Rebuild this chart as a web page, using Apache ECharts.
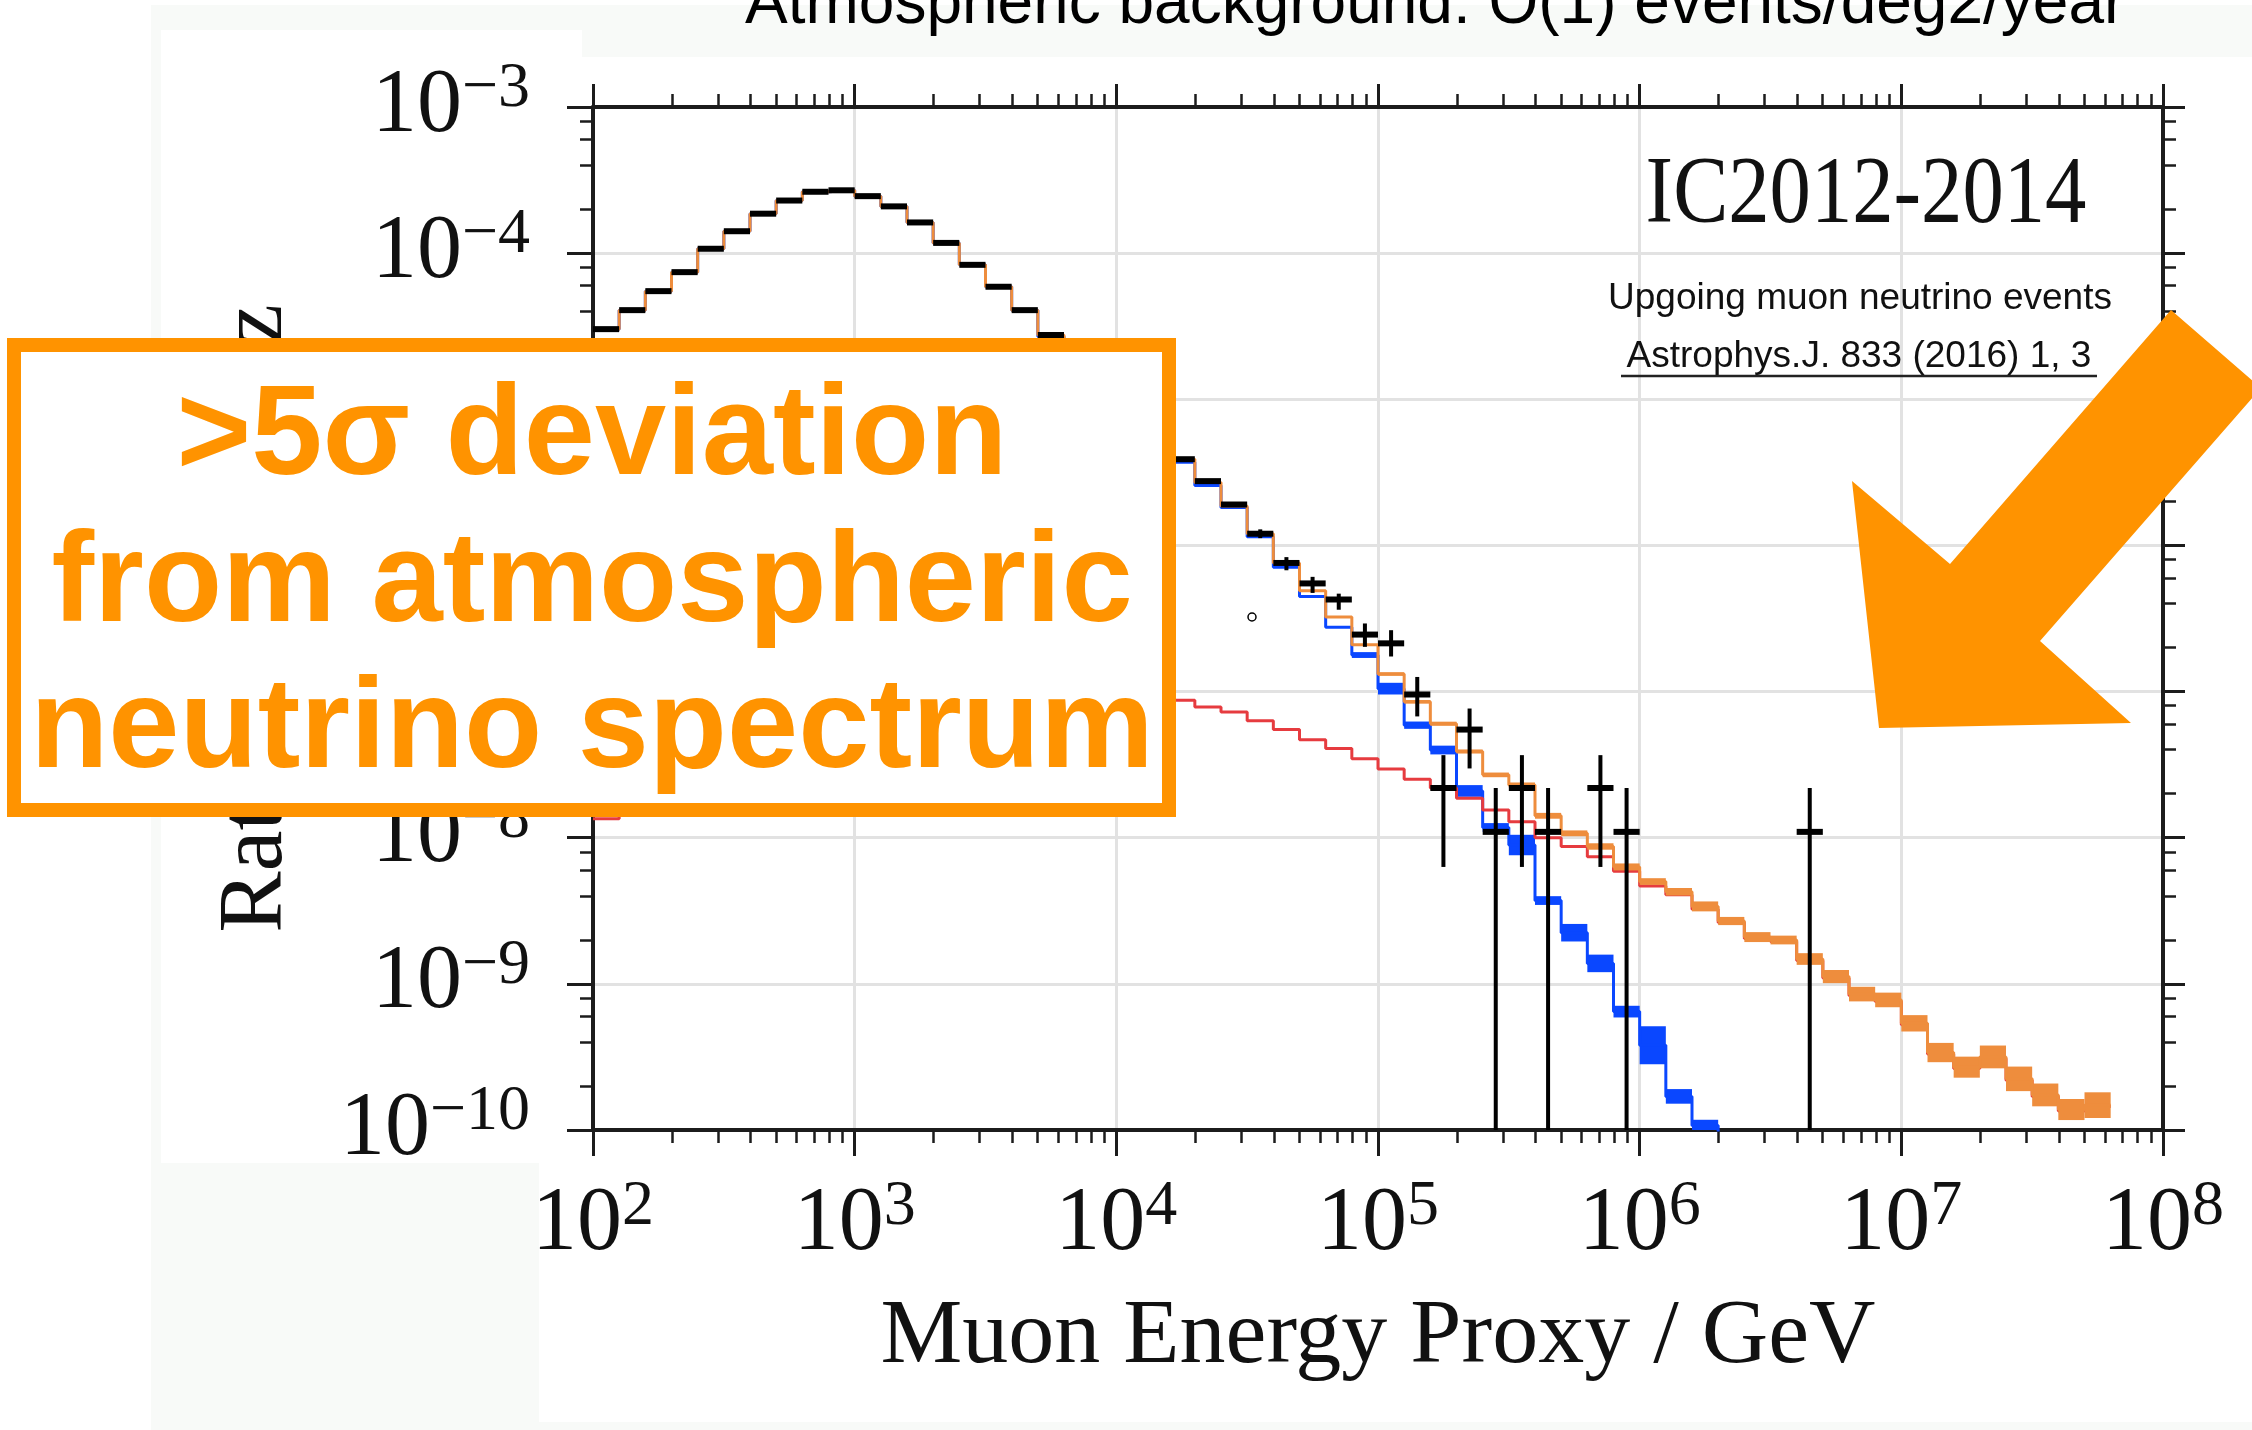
<!DOCTYPE html>
<html>
<head>
<meta charset="utf-8">
<title>IC2012-2014 upgoing muon neutrino events</title>
<script src="https://cdn.jsdelivr.net/npm/echarts@6.0.0/dist/echarts.min.js"></script>
<style>
  html, body { margin: 0; padding: 0; background: #fff; }
  .slide { position: absolute; left: 151px; top: 5px; width: 2101px; height: 1425px; background: #f8faf8; }
  .plot-a { position: absolute; left: 161px; top: 30px; width: 421px; height: 1133px; background: #fff; }
  .plot-b { position: absolute; left: 539px; top: 57px; width: 1713px; height: 1365px; background: #fff; }
  #chart { position: absolute; left: 0; top: 0; width: 2252px; height: 1430px; }
</style>
</head>
<body>
<div class="slide"></div>
<div class="plot-a"></div>
<div class="plot-b"></div>
<div id="chart"></div>
<script>
// bin edges, log10(E / GeV), bins are 0.1 wide
var binEdges = [2.0, 2.1, 2.2, 2.3, 2.4, 2.5, 2.6, 2.7, 2.8, 2.9,
  3.0, 3.1, 3.2, 3.3, 3.4, 3.5, 3.6, 3.7, 3.8, 3.9,
  4.0, 4.1, 4.2, 4.3, 4.4, 4.5, 4.6, 4.7, 4.8, 4.9,
  5.0, 5.1, 5.2, 5.3, 5.4, 5.5, 5.6, 5.7, 5.8, 5.9,
  6.0, 6.1, 6.2, 6.3, 6.4, 6.5, 6.6, 6.7, 6.8, 6.9,
  7.0, 7.1, 7.2, 7.3, 7.4, 7.5, 7.6, 7.7, 7.8];

// experimental data, log10(rate / Hz) per bin (null = empty bin)
var dataExp = [-4.52, -4.39, -4.26, -4.13, -3.97, -3.85, -3.73, -3.64, -3.58, -3.57,
  -3.61, -3.68, -3.79, -3.93, -4.08, -4.23, -4.39, -4.56, -4.73, -4.90,
  -5.07, -5.24, -5.41, -5.56, -5.72, -5.92, -6.12, -6.26, -6.37, -6.61,
  -6.67, -7.02, -7.66, -7.26, -7.96, -7.66, -7.96, null, -7.66, -7.96,
  null, null, null, null, null, null, -7.96, null, null, null,
  null, null, null, null, null, null, null, null];
var dataHiExp = [null, null, null, null, null, null, null, null, null, null,
  null, null, null, null, null, null, null, null, null, null,
  null, null, null, null, null, -5.89, -6.08, -6.215, -6.33, -6.534,
  -6.58, -6.90, -7.435, -7.116, -7.66, -7.435, -7.66, null, -7.435, -7.66,
  null, null, null, null, null, null, -7.66, null, null, null,
  null, null, null, null, null, null, null, null];
var dataLoExp = [null, null, null, null, null, null, null, null, null, null,
  null, null, null, null, null, null, null, null, null, null,
  null, null, null, null, null, -5.95, -6.17, -6.325, -6.44, -6.694,
  -6.76, -7.17, -8.2, -7.526, -10, -8.2, -10, null, -8.2, -10,
  null, null, null, null, null, null, -10, null, null, null,
  null, null, null, null, null, null, null, null];

// total expectation (orange), log10 rate and band half-width
var orangeExp = [-4.52, -4.39, -4.26, -4.13, -3.97, -3.85, -3.73, -3.64, -3.58, -3.57,
  -3.61, -3.68, -3.79, -3.93, -4.08, -4.23, -4.39, -4.56, -4.73, -4.90,
  -5.07, -5.24, -5.41, -5.57, -5.73, -5.92, -6.12, -6.31, -6.49, -6.68,
  -6.88, -7.07, -7.22, -7.41, -7.57, -7.64, -7.85, -7.97, -8.06, -8.20,
  -8.30, -8.37, -8.47, -8.57, -8.68, -8.70, -8.83, -8.95, -9.07, -9.11,
  -9.27, -9.47, -9.57, -9.50, -9.65, -9.76, -9.86, -9.83];
var orangeSpread = [0, 0, 0, 0, 0, 0, 0, 0, 0, 0,
  0, 0, 0, 0, 0, 0, 0, 0, 0, 0,
  0, 0, 0, 0, 0, 0, 0, 0, 0, 0,
  0.012, 0.012, 0.014, 0.014, 0.016, 0.018, 0.02, 0.02, 0.022, 0.024,
  0.023, 0.026, 0.034, 0.028, 0.034, 0.03, 0.04, 0.045, 0.05, 0.05,
  0.056, 0.066, 0.072, 0.078, 0.084, 0.078, 0.072, 0.088];

// atmospheric background (blue)
var blueExp = [-4.52, -4.39, -4.26, -4.13, -3.97, -3.85, -3.73, -3.64, -3.58, -3.57,
  -3.61, -3.68, -3.79, -3.93, -4.08, -4.23, -4.39, -4.57, -4.74, -4.91,
  -5.08, -5.26, -5.43, -5.59, -5.74, -5.94, -6.15, -6.35, -6.56, -6.75,
  -6.98, -7.23, -7.40, -7.68, -7.93, -8.05, -8.43, -8.65, -8.86, -9.19,
  -9.42, -9.77, -9.97, -10.25];
var blueSpread = [0, 0, 0, 0, 0, 0, 0, 0, 0, 0,
  0, 0, 0, 0, 0, 0, 0, 0, 0, 0,
  0, 0, 0, 0, 0, 0, 0, 0, 0, 0.02,
  0.04, 0.025, 0.03, 0.04, 0.03, 0.07, 0.03, 0.06, 0.06, 0.04,
  0.13, 0.05, 0.04, 0.04];

// astrophysical component (red)
var redExp = [-7.87, -7.76, -7.65, -7.55, -7.46, -7.38, -7.31, -7.24, -7.18, -7.13,
  -7.09, -7.06, -7.03, -7.01, -7.00, -6.99, -6.99, -7.00, -7.01, -7.02,
  -7.03, -7.045, -7.06, -7.105, -7.14, -7.20, -7.26, -7.33, -7.39, -7.46,
  -7.53, -7.60, -7.66, -7.73, -7.81, -7.89, -8.00, -8.06, -8.13, -8.23,
  -8.33, -8.39, -8.49, -8.58, -8.69, -8.71, -8.84, -8.96, -9.08, -9.12,
  -9.28, -9.48, -9.58, -9.51, -9.66, -9.77, -9.87, -9.84];

// axis decades and minor tick multipliers
var xDecades = [2, 3, 4, 5, 6, 7, 8];
var yDecades = [-10, -9, -8, -7, -6, -5, -4, -3];
var xMinorMult = [2, 3, 4, 5, 6, 7, 8, 9];
var yMinorMult = [2, 4, 6, 8];

var ORANGE = '#ee8d3d';
var BLUE = '#0a47ff';
var RED = '#e63b3f';
var HILITE = '#ff9300';
var INK = '#1c1c1c';
var SERIF = '"Liberation Serif", "DejaVu Serif", serif';
var SANS = '"Liberation Sans", Arial, sans-serif';

function pow10(e) { return Math.pow(10, e); }

function stepLine(exps) {
  var pts = [];
  for (var i = 0; i < exps.length; i++) {
    pts.push([pow10(binEdges[i]), pow10(exps[i])]);
  }
  var last = exps.length - 1;
  pts.push([pow10(binEdges[last + 1]), pow10(exps[last])]);
  return pts;
}

function bandRows(exps, spread) {
  var rows = [];
  for (var i = 0; i < exps.length; i++) {
    if (!spread[i]) continue;
    rows.push([pow10(binEdges[i]), pow10(binEdges[i + 1]),
      pow10(exps[i] - spread[i]), pow10(exps[i] + spread[i])]);
  }
  return rows;
}

function dataRows() {
  var rows = [];
  for (var i = 0; i < dataExp.length; i++) {
    if (dataExp[i] === null) continue;
    var hi = dataHiExp[i] === null ? dataExp[i] : dataHiExp[i];
    var lo = dataLoExp[i] === null ? dataExp[i] : dataLoExp[i];
    rows.push([pow10(binEdges[i]), pow10(binEdges[i + 1]), pow10(dataExp[i]),
      pow10(lo), pow10(hi), pow10((binEdges[i] + binEdges[i + 1]) / 2)]);
  }
  return rows;
}

function minorTicks(decades, mult) {
  var out = [];
  for (var i = 0; i < decades.length - 1; i++) {
    for (var j = 0; j < mult.length; j++) out.push(mult[j] * pow10(decades[i]));
  }
  return out;
}

function renderBand(color) {
  return function (params, api) {
    var a = api.coord([api.value(0), api.value(3)]);
    var b = api.coord([api.value(1), api.value(2)]);
    return {
      type: 'rect',
      shape: { x: a[0], y: a[1], width: b[0] - a[0], height: b[1] - a[1] },
      style: { fill: color }
    };
  };
}

function renderData(params, api) {
  var l = api.coord([api.value(0), api.value(2)]);
  var r = api.coord([api.value(1), api.value(2)]);
  var lo = api.coord([api.value(5), api.value(3)]);
  var hi = api.coord([api.value(5), api.value(4)]);
  var kids = [{
    type: 'line',
    shape: { x1: l[0], y1: l[1], x2: r[0], y2: r[1] },
    style: { stroke: '#000', lineWidth: 6 }
  }];
  if (lo[1] - hi[1] > 3) {
    kids.push({
      type: 'line',
      shape: { x1: lo[0], y1: lo[1], x2: hi[0], y2: hi[1] },
      style: { stroke: '#000', lineWidth: 4 }
    });
  }
  return { type: 'group', children: kids };
}

function powLabel(v) {
  var e = Math.round(Math.log(v) / Math.LN10);
  var s = e < 0 ? '\u2212' + (-e) : '' + e;
  return '{b|10}{s|' + s + '}';
}

var labelRich = {
  b: { fontFamily: SERIF, fontSize: 90, lineHeight: 100, color: '#111' },
  s: { fontFamily: SERIF, fontSize: 64, lineHeight: 46, verticalAlign: 'top', color: '#111' }
};

function majorAxis(pos, extent, tickLen, withLabel, margin) {
  return {
    type: 'log', logBase: 10, min: extent[0], max: extent[1], position: pos,
    gridIndex: 0, splitNumber: 7,
    axisLine: { show: true, onZero: false, lineStyle: { color: INK, width: 4 } },
    axisTick: { show: true, inside: false, length: tickLen, lineStyle: { color: INK, width: 3 } },
    minorTick: { show: false },
    splitLine: { show: withLabel, lineStyle: { color: '#e2e2e2', width: 3 } },
    axisLabel: withLabel ? {
      show: true, margin: margin, formatter: powLabel, rich: labelRich,
      showMinLabel: true, showMaxLabel: true
    } : { show: false }
  };
}

function minorAxis(pos, extent, ticks) {
  return {
    type: 'log', logBase: 10, min: extent[0], max: extent[1], position: pos,
    gridIndex: 0,
    axisLine: { show: false, onZero: false },
    axisTick: { show: true, inside: false, length: 13, customValues: ticks,
      lineStyle: { color: INK, width: 2.5 } },
    splitLine: { show: false },
    axisLabel: { show: false }
  };
}

var xExtent = [pow10(xDecades[0]), pow10(xDecades[xDecades.length - 1])];
var yExtent = [pow10(yDecades[0]), pow10(yDecades[yDecades.length - 1])];
var xMinor = minorTicks(xDecades, xMinorMult);
var yMinor = minorTicks(yDecades, yMinorMult);

var xBottom = majorAxis('bottom', xExtent, 26, true, 45);
xBottom.name = 'Muon Energy Proxy / GeV';
xBottom.nameLocation = 'middle';
xBottom.nameGap = 162;
xBottom.nameTextStyle = { fontFamily: SERIF, fontSize: 92, color: '#111' };

var yLeft = majorAxis('left', yExtent, 26, true, 63);
yLeft.name = 'Rate per bin / Hz';
yLeft.nameLocation = 'middle';
yLeft.nameRotate = 90;
yLeft.nameGap = 290;
yLeft.nameTextStyle = { fontFamily: SERIF, fontSize: 92, color: '#111' };

var chart = echarts.init(document.getElementById('chart'), null, { renderer: 'canvas' });

chart.setOption({
  animation: false,
  backgroundColor: 'transparent',
  grid: { left: 593, right: 89, top: 107, bottom: 300, containLabel: false, outerBoundsMode: 'none' },
  xAxis: [
    xBottom,
    majorAxis('top', xExtent, 23, false),
    minorAxis('bottom', xExtent, xMinor),
    minorAxis('top', xExtent, xMinor)
  ],
  yAxis: [
    yLeft,
    majorAxis('right', yExtent, 22, false),
    minorAxis('left', yExtent, yMinor),
    minorAxis('right', yExtent, yMinor)
  ],
  series: [
    {
      name: 'atmospheric band', type: 'custom', z: 2, clip: true, silent: true,
      renderItem: renderBand(BLUE), encode: { x: [0, 1], y: [2, 3] },
      data: bandRows(blueExp, blueSpread)
    },
    {
      name: 'atmospheric', type: 'line', step: 'end', z: 3, symbol: 'none', silent: true,
      lineStyle: { color: BLUE, width: 3 }, data: stepLine(blueExp)
    },
    {
      name: 'astrophysical', type: 'line', step: 'end', z: 4, symbol: 'none', silent: true,
      lineStyle: { color: RED, width: 3 }, data: stepLine(redExp)
    },
    {
      name: 'total band', type: 'custom', z: 5, clip: true, silent: true,
      renderItem: renderBand(ORANGE), encode: { x: [0, 1], y: [2, 3] },
      data: bandRows(orangeExp, orangeSpread)
    },
    {
      name: 'total', type: 'line', step: 'end', z: 6, symbol: 'none', silent: true,
      lineStyle: { color: ORANGE, width: 3 }, data: stepLine(orangeExp)
    },
    {
      name: 'data', type: 'custom', z: 7, clip: true, silent: true,
      renderItem: renderData, encode: { x: [0, 1, 5], y: [2, 3, 4] },
      data: dataRows()
    }
  ],
  graphic: { elements: [
    {
      type: 'text', x: 745, y: 5, z: 100,
      style: { text: 'Atmospheric background: O(1) events/deg2/year', fill: '#000',
        font: '64px ' + SANS, align: 'left', verticalAlign: 'middle',
        textAlign: 'left', textVerticalAlign: 'middle' }
    },
    {
      type: 'text', x: 1866, y: 197, z: 100, scaleX: 0.87,
      style: { text: 'IC2012-2014', fill: '#111', font: '95px ' + SERIF,
        align: 'center', verticalAlign: 'middle', textAlign: 'center', textVerticalAlign: 'middle' }
    },
    {
      type: 'text', x: 1860, y: 299, z: 100,
      style: { text: 'Upgoing muon neutrino events', fill: '#111', font: '37px ' + SANS,
        align: 'center', verticalAlign: 'middle', textAlign: 'center', textVerticalAlign: 'middle' }
    },
    {
      type: 'text', x: 1859, y: 357, z: 100,
      style: { text: 'Astrophys.J. 833 (2016) 1, 3', fill: '#111', font: '37px ' + SANS,
        align: 'center', verticalAlign: 'middle', textAlign: 'center', textVerticalAlign: 'middle' }
    },
    {
      type: 'line', z: 100,
      shape: { x1: 1621, y1: 376, x2: 2097, y2: 376 },
      style: { stroke: '#222', lineWidth: 2.5 }
    },
    {
      type: 'circle', z: 100,
      shape: { cx: 1252, cy: 617, r: 4 },
      style: { fill: '#fff', stroke: '#000', lineWidth: 1.5 }
    },
    {
      type: 'rect', z: 100,
      shape: { x: 14, y: 345, width: 1155, height: 465 },
      style: { fill: '#fff', stroke: HILITE, lineWidth: 14 }
    },
    {
      type: 'text', x: 592, y: 439, z: 101,
      style: { text: '>5\u03c3 deviation', fill: HILITE, font: 'bold 128px ' + SANS,
        align: 'center', verticalAlign: 'middle', textAlign: 'center', textVerticalAlign: 'middle' }
    },
    {
      type: 'text', x: 592, y: 586, z: 101,
      style: { text: 'from atmospheric', fill: HILITE, font: 'bold 128px ' + SANS,
        align: 'center', verticalAlign: 'middle', textAlign: 'center', textVerticalAlign: 'middle' }
    },
    {
      type: 'text', x: 592, y: 732, z: 101,
      style: { text: 'neutrino spectrum', fill: HILITE, font: 'bold 128px ' + SANS,
        align: 'center', verticalAlign: 'middle', textAlign: 'center', textVerticalAlign: 'middle' }
    },
    {
      type: 'polygon', z: 100,
      shape: { points: [[2171, 310], [2261, 388], [2040, 641], [2131, 723],
        [1879, 728], [1852, 481], [1950, 564]] },
      style: { fill: HILITE }
    }
  ] }
});
</script>
</body>
</html>
